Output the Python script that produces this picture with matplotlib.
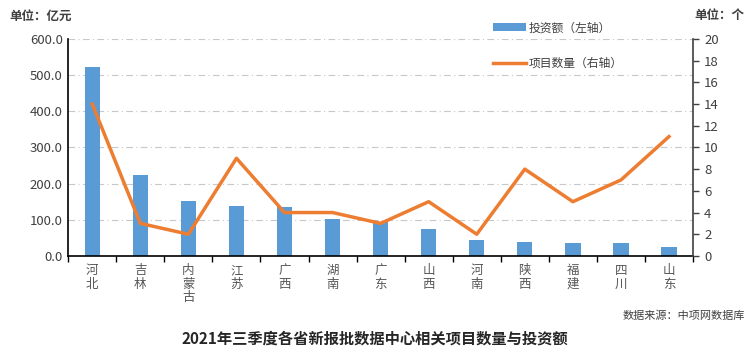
import matplotlib
matplotlib.use("Agg")
import matplotlib.pyplot as plt
from matplotlib.patches import Patch
from matplotlib.lines import Line2D
import numpy as np

plt.rcParams['font.family'] = ['Noto Sans CJK SC', 'DejaVu Sans']

provinces = ["河北", "吉林", "内蒙古", "江苏", "广西", "湖南", "广东", "山西", "河南", "陕西", "福建", "四川", "山东"]
investment = [522, 223, 152, 138, 135, 102, 93, 75, 44, 39, 35, 35, 24]
projects = [14, 3, 2, 9, 4, 4, 3, 5, 2, 8, 5, 7, 11]
left_ticks = [0, 100, 200, 300, 400, 500, 600]
right_ticks = list(range(0, 21, 2))

bar_color = "#5B9BD5"
line_color = "#ED7D31"
tick_color = "#404040"

fig = plt.figure(figsize=(7.5, 3.54), dpi=100)
ax = fig.add_axes([0.091, 0.277, 0.833, 0.613])
x = np.arange(len(provinces))

ax.bar(x, investment, width=0.32, color=bar_color, zorder=2)
ax.set_ylim(0, 600)
ax.set_xlim(-0.5, len(provinces) - 0.5)
ax.set_yticks(left_ticks)
ax.set_yticklabels([f"{v:.1f}" for v in left_ticks], color=tick_color, fontsize=9.5)
ax.yaxis.grid(True, color="#c8c8c8", linestyle=(0, (6, 3, 1, 3)), linewidth=0.8, zorder=0)
ax.tick_params(axis='y', length=0, pad=4)

ax.set_xticks(x)
ax.set_xticklabels(["\n".join(p) for p in provinces], fontsize=9, color="#555555",
                   linespacing=1.05, va='top')
ax.set_xticks(np.arange(-0.5, len(provinces), 1), minor=True)
ax.tick_params(axis='x', which='major', length=0, pad=6)
ax.tick_params(axis='x', which='minor', length=4, color='black', width=1)

for s in ['top', 'right']:
    ax.spines[s].set_visible(False)
ax.spines['left'].set_color('black')
ax.spines['left'].set_linewidth(1.2)
ax.spines['bottom'].set_color('black')
ax.spines['bottom'].set_linewidth(1.2)

ax2 = ax.twinx()
ax2.plot(x, projects, color=line_color, linewidth=2.5, zorder=3)
ax2.set_ylim(0, 20)
ax2.set_yticks(right_ticks)
ax2.set_yticklabels([str(v) for v in right_ticks], color=tick_color, fontsize=9.5)
ax2.tick_params(axis='y', length=4, color='#404040', width=1, pad=4)
for s in ['top', 'left', 'bottom']:
    ax2.spines[s].set_visible(False)
ax2.spines['right'].set_color('#404040')
ax2.spines['right'].set_linewidth(1.2)

handles = [Patch(facecolor=bar_color, edgecolor='none'),
           Line2D([0], [0], color=line_color, linewidth=2.5)]
fig.legend(handles, ["投资额（左轴）", "项目数量（右轴）"], loc='upper left',
           bbox_to_anchor=(0.643, 0.97), frameon=False, fontsize=8.5,
           labelspacing=1.9, handlelength=2.8, handleheight=0.6, handletextpad=0.2,
           labelcolor='#404040')

fig.text(0.013, 0.955, "单位：亿元", fontsize=9, fontweight='bold', color='#404040', ha='left', va='center')
fig.text(0.993, 0.955, "单位：个", fontsize=9, fontweight='bold', color='#404040', ha='right', va='center')
fig.text(0.993, 0.107, "数据来源：中项网数据库", fontsize=8, color='#404040', ha='right', va='center')
fig.text(0.5, 0.045, "2021年三季度各省新报批数据中心相关项目数量与投资额", fontsize=11,
         fontweight='bold', color='#262626', ha='center', va='center')

fig.savefig("out.png", dpi=100)
